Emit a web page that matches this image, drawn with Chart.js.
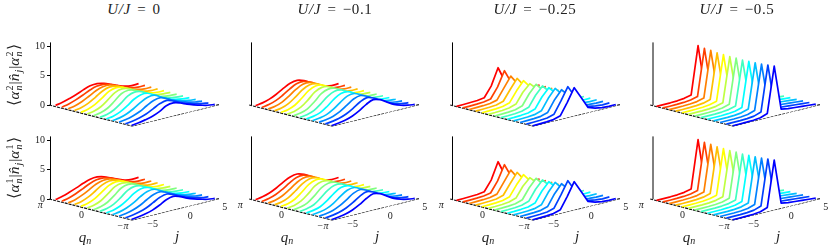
<!DOCTYPE html>
<html><head><meta charset="utf-8">
<style>
html,body{margin:0;padding:0;background:#fff;width:830px;height:246px;overflow:hidden}
canvas{position:absolute}
.t{position:absolute;font-family:"Liberation Serif",serif;color:#222;white-space:nowrap;line-height:1}
.title{font-size:15px;transform:translateX(-50%);word-spacing:2px;letter-spacing:.6px}
.ax{font-size:15px;font-style:italic;transform:translateX(-50%)}
.yl{font-size:15.5px;transform:translate(-50%,-50%) rotate(-90deg);display:flex;align-items:center}
.yl i{font-style:italic}
.st{display:inline-flex;flex-direction:column;font-size:10px;line-height:9px;margin:0 1px}
.st i,.st span{display:block}
</style>
<script src="https://cdn.jsdelivr.net/npm/chart.js@4"></script>
</head><body>
<script>
const titles=["0","−0.1","−0.25","−0.5"];
const titleCenters=[134,335,535,737];
const jSites=[-6,-5,-4,-3,-2,-1,0,1,2,3,4,5,6];
const curveColors=["rgb(255,0,0)","rgb(255,64,0)","rgb(255,128,0)","rgb(255,191,0)","rgb(255,255,0)","rgb(191,255,64)","rgb(128,255,128)","rgb(64,255,191)","rgb(0,255,255)","rgb(0,191,255)","rgb(0,128,255)","rgb(0,64,255)","rgb(0,0,255)"];
const zTicks=[0,5,10];
const qTickValues=[Math.PI,0,-Math.PI];
const qTickLabels=["π","0","−π"];
const jTickValues=[-5,0,5];
const jTickLabels=["−5","0","5"];

const u0Top=[
[.20,.45,.80,1.20,1.70,2.10,2.20,1.95,1.50,1.00,.60,.40,.45],
[.18,.45,.85,1.35,1.90,2.30,2.35,2.00,1.50,1.00,.60,.40,.42],
[.16,.42,.85,1.45,2.10,2.50,2.50,2.05,1.50,1.00,.60,.40,.40],
[.14,.40,.85,1.55,2.30,2.70,2.60,2.10,1.50,.95,.58,.38,.38],
[.12,.36,.85,1.65,2.50,2.85,2.65,2.05,1.40,.90,.55,.36,.35],
[.11,.33,.82,1.70,2.62,2.95,2.70,2.02,1.35,.85,.52,.36,.32],
[.10,.30,.80,1.70,2.70,3.00,2.70,2.00,1.30,.80,.50,.35,.30],
[.10,.30,.78,1.60,2.55,2.95,2.75,2.05,1.35,.85,.52,.35,.28],
[.10,.28,.72,1.45,2.30,2.80,2.75,2.10,1.40,.90,.55,.35,.26],
[.10,.27,.65,1.25,2.00,2.60,2.70,2.10,1.45,.95,.58,.35,.24],
[.10,.26,.58,1.05,1.75,2.35,2.55,2.05,1.45,1.00,.62,.35,.22],
[.10,.25,.52,.90,1.50,2.10,2.35,1.95,1.42,1.00,.64,.35,.20],
[.10,.25,.50,.80,1.30,2.00,2.20,1.90,1.40,1.00,.65,.35,.20]];
const u0Bottom=[
[.18,.45,.85,1.30,1.80,2.20,2.30,2.05,1.55,1.05,.62,.42,.48],
[.17,.44,.88,1.42,2.00,2.38,2.42,2.08,1.55,1.02,.62,.42,.45],
[.15,.42,.90,1.52,2.18,2.55,2.52,2.08,1.52,1.00,.60,.40,.42],
[.14,.40,.88,1.60,2.35,2.72,2.60,2.10,1.50,.95,.58,.38,.40],
[.12,.36,.86,1.68,2.50,2.85,2.68,2.08,1.42,.90,.55,.36,.38],
[.11,.33,.82,1.70,2.60,2.92,2.70,2.05,1.36,.86,.52,.36,.34],
[.10,.30,.80,1.68,2.65,2.98,2.72,2.02,1.32,.82,.50,.35,.32],
[.10,.30,.76,1.58,2.52,2.92,2.72,2.05,1.36,.86,.52,.35,.30],
[.10,.28,.70,1.42,2.28,2.78,2.72,2.10,1.42,.90,.55,.35,.28],
[.10,.27,.64,1.22,2.00,2.58,2.68,2.12,1.48,.96,.58,.35,.26],
[.10,.26,.56,1.05,1.75,2.35,2.55,2.10,1.48,1.00,.62,.35,.24],
[.10,.25,.50,.90,1.52,2.15,2.42,2.02,1.45,1.00,.64,.35,.22],
[.10,.25,.48,.82,1.35,2.02,2.30,1.95,1.42,1.00,.65,.35,.20]];
const u01Top=[
[.15,.35,.70,1.25,1.95,2.55,2.75,2.40,1.75,1.10,.62,.40,.45],
[.14,.34,.72,1.35,2.10,2.72,2.85,2.42,1.72,1.08,.60,.40,.42],
[.13,.32,.74,1.48,2.32,2.92,2.95,2.42,1.68,1.05,.60,.38,.40],
[.12,.30,.76,1.58,2.52,3.08,3.00,2.40,1.62,1.00,.58,.38,.38],
[.11,.29,.76,1.66,2.66,3.18,3.05,2.36,1.58,.95,.55,.36,.36],
[.10,.27,.74,1.66,2.72,3.22,3.05,2.34,1.52,.92,.54,.36,.34],
[.10,.26,.70,1.62,2.70,3.20,3.05,2.32,1.50,.90,.52,.35,.32],
[.10,.26,.66,1.54,2.54,3.12,3.05,2.36,1.52,.92,.54,.35,.30],
[.10,.25,.60,1.36,2.34,3.00,3.02,2.42,1.60,.95,.55,.35,.28],
[.09,.24,.54,1.18,2.06,2.82,2.98,2.44,1.66,1.00,.58,.35,.26],
[.09,.23,.50,1.02,1.80,2.60,2.92,2.46,1.70,1.02,.60,.35,.24],
[.08,.22,.46,.90,1.58,2.38,2.84,2.46,1.72,1.05,.62,.35,.22],
[.08,.22,.44,.84,1.45,2.25,2.76,2.46,1.76,1.08,.64,.36,.20]];
const u01Bottom=[
[.15,.36,.72,1.28,2.00,2.60,2.80,2.44,1.78,1.12,.62,.40,.46],
[.14,.35,.74,1.38,2.15,2.76,2.88,2.44,1.74,1.08,.60,.40,.44],
[.13,.32,.76,1.50,2.35,2.94,2.96,2.44,1.68,1.05,.60,.38,.42],
[.12,.30,.76,1.60,2.54,3.08,3.02,2.40,1.62,1.00,.58,.38,.40],
[.11,.29,.76,1.66,2.66,3.18,3.05,2.36,1.58,.95,.55,.36,.36],
[.10,.27,.74,1.66,2.72,3.20,3.05,2.34,1.52,.92,.54,.36,.34],
[.10,.26,.70,1.60,2.68,3.18,3.05,2.32,1.50,.90,.52,.35,.32],
[.10,.26,.64,1.52,2.52,3.10,3.05,2.36,1.52,.92,.54,.35,.30],
[.10,.25,.58,1.34,2.30,2.98,3.02,2.42,1.60,.95,.55,.35,.28],
[.09,.24,.53,1.16,2.04,2.80,2.98,2.44,1.66,1.00,.58,.35,.26],
[.09,.23,.50,1.02,1.78,2.58,2.92,2.46,1.70,1.02,.60,.35,.24],
[.08,.22,.46,.90,1.56,2.36,2.84,2.46,1.72,1.05,.62,.35,.22],
[.08,.22,.44,.84,1.45,2.22,2.74,2.46,1.76,1.08,.64,.36,.20]];
const u025=[
[.05,.08,.12,.18,.35,2.05,4.90,2.30,.70,.35,.22,.15,.20],
[.05,.08,.12,.20,.42,2.15,4.67,2.35,.72,.36,.22,.15,.20],
[.05,.08,.13,.22,.50,2.25,4.03,2.40,.75,.36,.22,.15,.20],
[.05,.08,.13,.24,.58,2.30,3.91,2.40,.78,.38,.22,.15,.18],
[.05,.08,.14,.25,.62,2.35,3.79,2.42,.80,.38,.22,.15,.18],
[.05,.08,.14,.26,.65,2.38,3.56,2.40,.80,.38,.22,.15,.18],
[.05,.08,.14,.26,.65,2.40,3.73,2.42,.80,.38,.22,.15,.18],
[.05,.08,.14,.26,.65,2.42,3.71,2.45,.82,.40,.24,.15,.18],
[.05,.08,.14,.25,.62,2.40,3.69,2.50,.82,.40,.24,.15,.18],
[.05,.08,.13,.24,.60,2.45,3.86,2.55,.85,.42,.24,.15,.18],
[.05,.08,.13,.23,.60,2.50,3.90,2.65,.85,.44,.25,.15,.18],
[.05,.08,.12,.22,.58,2.55,4.70,2.78,.85,.45,.25,.15,.18],
[.05,.08,.12,.22,.60,2.60,4.80,2.85,.85,.45,.25,.15,.18]];
const u05=[
[.05,.05,.07,.12,.25,.55,8.67,.85,.65,.55,.45,.35,.25],
[.05,.05,.07,.12,.25,.55,8.50,.85,.65,.55,.45,.35,.25],
[.05,.05,.07,.12,.25,.56,8.43,.85,.65,.55,.45,.35,.25],
[.05,.05,.07,.12,.26,.58,8.29,.85,.65,.55,.45,.35,.25],
[.05,.05,.07,.13,.26,.58,8.24,.86,.65,.55,.45,.35,.25],
[.05,.05,.07,.13,.26,.60,8.17,.86,.66,.55,.45,.35,.25],
[.05,.05,.07,.13,.26,.60,8.22,.86,.66,.55,.45,.35,.25],
[.05,.05,.07,.13,.26,.60,8.15,.86,.66,.55,.45,.35,.25],
[.05,.05,.07,.13,.26,.62,8.20,.86,.66,.55,.45,.35,.25],
[.05,.05,.07,.12,.26,.62,8.24,.86,.65,.55,.45,.35,.25],
[.05,.05,.07,.12,.25,.64,8.29,.86,.65,.55,.45,.35,.25],
[.05,.05,.07,.12,.25,.66,8.41,.86,.65,.55,.45,.35,.25],
[.05,.05,.07,.12,.25,.70,8.51,.85,.65,.55,.45,.35,.25]];

const panels=[[u0Top,u01Top,u025,u05],[u0Bottom,u01Bottom,u025,u05]];
const tensions=[.35,.35,0,0];
const colLeft=[0,200,401,601];
const axisShift=[.5,1.5,1.5,2];
const rowTop=[40,134];
const PXZ=5.85,CW=230,CH=130,ZERO=65,LEFT=50;
const JDX=6.92,JDY=1.7,QDX=82.5,QDY=21,X0=-.8;
const qOf=i=>Math.PI-(i+1)*2*Math.PI/13;
const px=(j,q)=>X0+(j+6)*JDX+(Math.PI-q)/(2*Math.PI)*QDX;
const pz=(j,q,v)=>v+(j+6)*JDY/PXZ-(Math.PI-q)/(2*Math.PI)*QDY/PXZ;

const tickLabelPlugin={id:'tickLabels',afterDraw(ch,a,o){
  if(!o.show)return;
  const c=ch.ctx,X=ch.scales.x,Y=ch.scales.y;
  c.save();c.fillStyle='#222';c.textAlign='center';c.textBaseline='middle';
  qTickValues.forEach((q,k)=>{
    c.font=(k===1?'':'italic ')+'10px "Liberation Serif",serif';
    c.fillText(qTickLabels[k],X.getPixelForValue(px(-6,q))-9,Y.getPixelForValue(pz(-6,q,0))+6);
  });
  c.font='10px "Liberation Serif",serif';
  jTickValues.forEach((j,k)=>{
    c.fillText(jTickLabels[k],X.getPixelForValue(px(j,-Math.PI))+(k===0?14:17),Y.getPixelForValue(pz(j,-Math.PI,0))+6.5);
  });
  c.restore();
}};
Chart.register(tickLabelPlugin);

panels.forEach((row,r)=>row.forEach((table,c)=>{
  const cv=document.createElement('canvas');
  cv.width=CW;cv.height=CH;
  cv.style.left=colLeft[c]+'px';cv.style.top=rowTop[r]+'px';
  document.body.appendChild(cv);
  const datasets=[];
  for(let i=table.length-1;i>=0;i--){
    const q=qOf(i);
    datasets.push({data:jSites.map((j,k)=>({x:px(j,q),y:pz(j,q,table[i][k])})),
      borderColor:curveColors[i],borderWidth:1.7,tension:tensions[c],
      fill:'+1',backgroundColor:'#fff',pointRadius:0,clip:false,borderJoinStyle:'round'});
    datasets.push({data:jSites.map(j=>({x:px(j,q),y:pz(j,q,0)})),
      borderWidth:0,borderColor:'rgba(0,0,0,0)',pointRadius:0,fill:false,clip:false});
  }
  const jEnd=6.6;
  datasets.push({data:[{x:px(-6,Math.PI),y:pz(-6,Math.PI,0)},{x:px(-6,-Math.PI),y:pz(-6,-Math.PI,0)},{x:px(jEnd,-Math.PI),y:pz(jEnd,-Math.PI,0)}],
    borderColor:'#111',borderWidth:1.2,borderDash:[3,1],pointRadius:0,fill:false,clip:false,tension:0});
  datasets.push({data:[{x:axisShift[c],y:0},{x:axisShift[c],y:10.7}],
    borderColor:'#000',borderWidth:1,pointRadius:0,fill:false,clip:false,tension:0});
  new Chart(cv,{type:'line',data:{datasets},options:{
    responsive:false,animation:false,events:[],
    plugins:{legend:{display:false},tooltip:{enabled:false},filler:{drawTime:'beforeDatasetDraw',propagate:false},
      tickLabels:{show:r===1}},
    scales:{
      x:{type:'linear',display:false,min:0,max:CW-LEFT},
      y:{type:'linear',display:c===0,min:-ZERO/PXZ,max:ZERO/PXZ,
        afterFit(s){s.width=LEFT;s.paddingTop=0;s.paddingBottom=0;},
        afterBuildTicks(s){s.ticks=zTicks.map(v=>({value:v}));},
        border:{display:false},
        grid:{drawOnChartArea:false,drawTicks:true,tickLength:3,color:'#000',lineWidth:1},
        ticks:{padding:2,color:'#222',font:{family:'"Liberation Serif",serif',size:10},callback:v=>String(v),autoSkip:false,maxRotation:0}}
    }}});
}));

function txt(cls,html,x,y){const d=document.createElement('div');d.className='t '+cls;d.innerHTML=html;d.style.left=x+'px';d.style.top=y+'px';document.body.appendChild(d);return d;}
titles.forEach((t,i)=>txt('title','<i>U/J</i> = '+t,titleCenters[i],2));
[85,287,488,689].forEach(x=>txt('ax','q<span style="font-size:10px;position:relative;top:2px">n</span>',x,230));
[177,377,577,778].forEach(x=>txt('ax','j',x,229));
const yl=n=>'⟨<i>α</i><span class="st"><span>'+n+'</span><i>n</i></span>|<i>n̂</i><span class="st"><span>&nbsp;</span><i>j</i></span>|<i>α</i><span class="st"><span>'+n+'</span><i>n</i></span>⟩';
txt('yl',yl(2),14,75);
txt('yl',yl(1),14,168);
</script>
</body></html>
